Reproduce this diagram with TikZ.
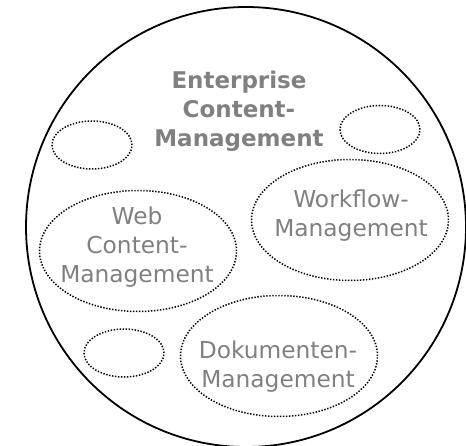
\documentclass[tikz,border=0pt]{standalone}
\usepackage{fontspec}
\setmainfont{DejaVu Sans}
\usetikzlibrary{shapes.geometric}
\definecolor{txtgray}{HTML}{808080}
\begin{document}
\begin{tikzpicture}[x=1pt,y=-1pt,
  outer/.style={draw=black,line width=1.8pt,circle,minimum size=440pt,inner sep=0pt},
  blob/.style={draw=black,dash pattern=on 1.4pt off 1.6pt,line width=1.5pt,ellipse,inner sep=0pt},
  smallblob/.style={blob,minimum width=80pt,minimum height=48pt},
  bigblob/.style={blob,minimum width=197pt,minimum height=121pt},
  lbl/.style={text=txtgray,align=center,inner sep=0pt,font=\fontsize{23.3}{29}\selectfont},
  title/.style={lbl,font=\fontsize{23}{29}\selectfont\bfseries}]
\useasboundingbox (0,0) rectangle (466,446);
\clip (0,0) rectangle (466,446);
\node[outer] (ecm) at (246,227) {};
\node[smallblob] (s1) at (92,145) {};
\node[smallblob] (s2) at (380,129.5) {};
\node[smallblob] (s3) at (124,353) {};
\node[bigblob] (wcm) at (138,251) {};
\node[bigblob] (wfm) at (350,220) {};
\node[bigblob] (dm) at (279,356) {};
\node[title] (t) at (239,111) {Enterprise\\Content-\\Management};
\node[lbl] (twcm) at (137,247.5) {Web\\Content-\\Management};
\node[lbl] (twfm) at (351,215.5) {Workflow-\\Management};
\node[lbl] (tdm) at (278,366.5) {Dokumenten-\\Management};
\end{tikzpicture}
\end{document}
